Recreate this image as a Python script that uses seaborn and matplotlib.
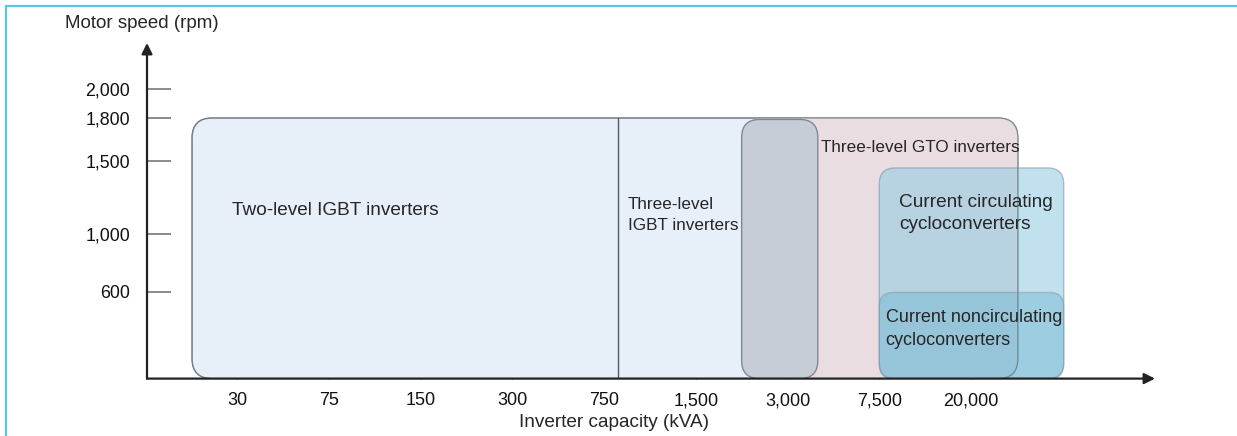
import matplotlib
matplotlib.use("Agg")
import matplotlib.pyplot as plt
import seaborn as sns
from matplotlib.patches import FancyBboxPatch
from matplotlib.lines import Line2D
from matplotlib import font_manager

# ---------------- data ----------------
capacity_labels = ["30", "75", "150", "300", "750", "1,500", "3,000", "7,500", "20,000"]
speed_ticks = [600, 1000, 1500, 1800, 2000]
speed_tick_labels = ["600", "1,000", "1,500", "1,800", "2,000"]

# application regions (capacity in category-index units, speed in rpm)
region_names = ["Two-level IGBT inverters", "Three-level GTO inverters",
                "Three-level band", "Current circulating cycloconverters",
                "Current noncirculating cycloconverters"]
region_cap_start = [-0.49, 5.50, 5.50, 7.00, 7.00]
region_cap_end = [8.51, 8.51, 6.33, 9.01, 9.01]
region_speed_max = [1800, 1800, 1790, 1455, 595]
igbt_level_boundary = 4.15  # two-level / three-level IGBT split

# ---------------- style ----------------
sns.set_theme(style="white")
plt.rcParams["font.family"] = ["Liberation Sans", "DejaVu Sans"]

names = {f.name for f in font_manager.fontManager.ttflist}
narrow = "Liberation Sans Narrow" in names

W, H = 1237, 436
fig = plt.figure(figsize=(W / 100, H / 100), dpi=100)
ax_l, ax_b, ax_r, ax_t = 147, 378.6, 1155, 43  # pixel frame of axes
ax = fig.add_axes([ax_l / W, (H - ax_b) / H, (ax_r - ax_l) / W, (ax_b - ax_t) / H])

xlim = (-0.981, 10.005)
ylim = (0, 2318)
ax.set_xlim(*xlim)
ax.set_ylim(*ylim)
for s in ax.spines.values():
    s.set_visible(False)

px_x = (ax_r - ax_l) / (xlim[1] - xlim[0])
px_y = (ax_b - ax_t) / (ylim[1] - ylim[0])

fills = ["#e7eff8", "#eadde2", "#c6cdd7", "#8ec9e0", "#6fb6d2"]
alphas = [1.0, 1.0, 0.95, 0.55, 0.45]
edges = ["#8a939b", "#8a939b", "#7a858e", "#7a929f", "#7a929f"]
radii_px = [20, 20, 18, 16, 14]
edge_on = [True, False, True, True, True]

for i in range(len(region_names)):
    x0 = region_cap_start[i]
    w = region_cap_end[i] - x0
    h = region_speed_max[i]
    r = radii_px[i] / px_x
    asp = (radii_px[i] / px_y) / r
    p = FancyBboxPatch((x0, 0), w, h,
                       boxstyle=f"round,pad=0,rounding_size={r}",
                       mutation_aspect=asp,
                       facecolor=fills[i], alpha=alphas[i],
                       edgecolor=edges[i] if edge_on[i] else "none",
                       linewidth=1.0, zorder=1 + i * 0.1)
    ax.add_patch(p)

# outline of the big envelope drawn again on top so it shows through
r0 = radii_px[0] / px_x
outline = FancyBboxPatch((region_cap_start[0], 0),
                         region_cap_end[0] - region_cap_start[0], region_speed_max[0],
                         boxstyle=f"round,pad=0,rounding_size={r0}",
                         mutation_aspect=(radii_px[0] / px_y) / r0,
                         facecolor="none", edgecolor="#6a747c", linewidth=0.9,
                         alpha=0.7, zorder=2)
ax.add_patch(outline)

# boundary between two-level and three-level IGBT
ax.plot([igbt_level_boundary, igbt_level_boundary], [0, region_speed_max[0]],
        color="#555b60", lw=1.0, zorder=2)

# ticks
ax.set_xticks(range(len(capacity_labels)))
ax.set_xticklabels(capacity_labels, fontsize=13, color="#111")
ax.set_yticks(speed_ticks)
ax.set_yticklabels(speed_tick_labels, fontsize=12.8, color="#111")
ax.tick_params(axis="x", direction="in", length=8, width=1.0, color="#555",
               pad=10, bottom=True)
ax.tick_params(axis="y", direction="in", length=17, width=1.4, color="#8a8a8a",
               pad=12, left=True)

# axes with arrows
ax.annotate("", xy=(1, 0), xytext=(0, 0), xycoords="axes fraction",
            arrowprops=dict(arrowstyle="-|>", color="#222", lw=1.6,
                            mutation_scale=16, shrinkA=0, shrinkB=0),
            annotation_clip=False, zorder=5)
ax.annotate("", xy=(0, 1), xytext=(0, 0), xycoords="axes fraction",
            arrowprops=dict(arrowstyle="-|>", color="#222", lw=1.6,
                            mutation_scale=16, shrinkA=0, shrinkB=0),
            annotation_clip=False, zorder=5)

# region labels
ax.text(-0.05, 1160, "Two-level IGBT inverters", fontsize=13.7, va="center", ha="left", zorder=6)
ax.text(4.26, 1128, "Three-level\nIGBT inverters", fontsize=12.3, va="center", ha="left",
        linespacing=1.5, zorder=6)
ax.text(6.37, 1593, "Three-level GTO inverters", fontsize=12.3, va="center", ha="left", zorder=6)
ax.text(7.22, 1141, "Current circulating\ncycloconverters", fontsize=13.7, va="center",
        ha="left", linespacing=1.4, zorder=6)
if narrow:
    ax.text(7.07, 345, "Current noncirculating\ncycloconverters", fontsize=15.6,
            family=["Liberation Sans Narrow", "DejaVu Sans"], va="center", ha="left",
            linespacing=1.25, zorder=6)
else:
    ax.text(7.07, 345, "Current noncirculating\ncycloconverters", fontsize=13,
            va="center", ha="left", linespacing=1.45, zorder=6)

# axis titles
fig.text(141.5 / W, 1 - 24 / H, "Motor speed (rpm)", fontsize=13.5, ha="center", va="center")
fig.text(614 / W, 1 - 422 / H, "Inverter capacity (kVA)", fontsize=13.7, ha="center", va="center")

# light-blue frame (left and top)
frame_c = "#5bc5e6"
fig.add_artist(Line2D([6 / W, 6 / W], [0, 1 - 6 / H], color=frame_c, lw=1.6))
fig.add_artist(Line2D([6 / W, 1], [1 - 6 / H, 1 - 6 / H], color=frame_c, lw=1.6))

fig.savefig("out.png", dpi=100)
